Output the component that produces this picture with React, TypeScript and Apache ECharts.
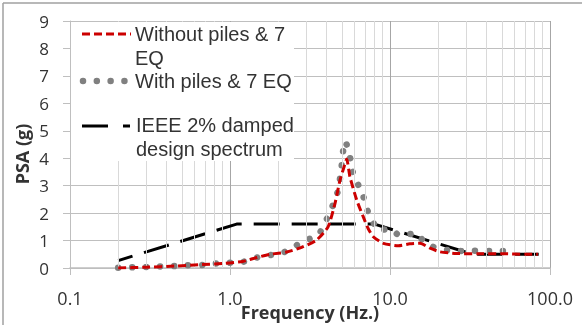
import React, { useEffect, useRef } from 'react';
import * as echarts from 'echarts';

// Without piles & 7 EQ (red dashed)
const freqWithout = [0.2, 0.3, 0.45, 0.65, 0.93, 1.2, 1.47, 1.78, 2.26, 2.8, 3.48, 4.1, 4.53, 4.87, 5.16, 5.36, 5.62, 6.2, 6.8, 7.3, 7.86, 9.1, 11.3, 13.3, 15.4, 17.8, 20.5, 26, 35, 50, 70, 84];
const psaWithout = [0.0, 0.03, 0.07, 0.12, 0.17, 0.24, 0.38, 0.5, 0.58, 0.75, 1.02, 1.5, 2.35, 3.2, 3.68, 3.97, 3.32, 2.47, 1.87, 1.44, 1.14, 0.9, 0.81, 0.88, 0.9, 0.72, 0.59, 0.53, 0.52, 0.52, 0.5, 0.5];

// With piles & 7 EQ (gray dotted)
const freqWith = [0.2, 0.3, 0.45, 0.54, 0.67, 0.81, 1.0, 1.22, 1.47, 1.78, 2.15, 2.55, 3.01, 3.57, 3.87, 4.2, 4.47, 4.75, 4.87, 4.98, 5.06, 5.24, 5.55, 5.69, 5.9, 6.34, 6.8, 7.14, 7.68, 8.44, 10, 11.4, 14.6, 16.5, 19.6, 23, 28.7, 35, 42, 52];
const psaWith = [0.01, 0.04, 0.07, 0.1, 0.11, 0.16, 0.19, 0.23, 0.38, 0.47, 0.56, 0.8, 1.02, 1.2, 1.6, 1.99, 2.41, 2.84, 3.26, 3.68, 4.15, 4.62, 4.25, 3.83, 3.42, 3.02, 2.62, 2.17, 1.78, 1.38, 1.42, 1.2, 1.26, 0.92, 0.72, 0.65, 0.62, 0.63, 0.62, 0.62];

// IEEE 2% damped design spectrum (black long dash)
const freqIEEE = [0.2, 1.1, 8, 33, 85];
const psaIEEE = [0.27, 1.6, 1.6, 0.5, 0.5];

// Axis
const xMin = 0.1;
const xMax = 100;
const yMin = 0;
const yMax = 9;
const yStep = 1;
const minorFreqs = [0.2, 0.3, 0.4, 0.5, 0.6, 0.7, 0.8, 0.9, 2, 3, 4, 5, 6, 7, 8, 9, 20, 30, 40, 50, 60, 70, 80, 90];

const xTitle = 'Frequency (Hz.)';
const yTitle = 'PSA (g)';
const legendNames = ['Without piles & 7\nEQ', 'With piles & 7 EQ', 'IEEE 2% damped\ndesign spectrum'];

const zip = (f: number[], v: number[]) => f.map((x, i) => [x, v[i]]);

export default function App() {
  const ref = useRef<HTMLDivElement>(null);
  useEffect(() => {
    const chart = echarts.init(ref.current as HTMLDivElement, null, { renderer: 'svg' });
    const font = "'Open Sans', sans-serif";
    const legendFont = "'Liberation Sans', Arial, sans-serif";
    const txt = '#333333';
    const legendText = (text: string, x: number, y: number) => ({
      type: 'text',
      x,
      y,
      z: 101,
      style: {
        text,
        fill: txt,
        font: `20px ${legendFont}`,
        lineHeight: 24,
        align: 'left',
        verticalAlign: 'top',
        textAlign: 'left',
        textVerticalAlign: 'top',
      },
    });
    chart.setOption({
      animation: false,
      grid: { left: 70, right: 35, top: 21, bottom: 57, containLabel: false, outerBoundsMode: 'none' },
      xAxis: {
        type: 'log',
        logBase: 10,
        min: xMin,
        max: xMax,
        axisLine: { show: true, lineStyle: { color: '#bfbfbf', width: 1.5 } },
        axisTick: { show: true, length: 7, lineStyle: { color: '#bfbfbf' } },
        axisLabel: {
          formatter: (v: number) => Number(v).toFixed(1),
          fontFamily: font,
          fontSize: 18,
          lineHeight: 18,
          color: txt,
          margin: 21,
        },
        splitLine: { show: true, lineStyle: { color: '#a6a6a6', width: 1 } },
      },
      yAxis: {
        type: 'value',
        min: yMin,
        max: yMax,
        interval: yStep,
        axisLine: { show: true, lineStyle: { color: '#bfbfbf', width: 1 } },
        axisTick: { show: true, length: 7, lineStyle: { color: '#bfbfbf' } },
        axisLabel: { fontFamily: font, fontSize: 17, lineHeight: 18, color: txt, margin: 21 },
        splitLine: { show: true, lineStyle: { color: '#bfbfbf', width: 1 } },
      },
      series: [
        {
          name: 'minor-grid',
          type: 'line',
          data: [[xMin, yMin]],
          symbol: 'none',
          silent: true,
          z: 1,
          lineStyle: { opacity: 0 },
          markLine: {
            silent: true,
            symbol: ['none', 'none'],
            label: { show: false },
            lineStyle: { color: '#d9d9d9', type: 'solid', width: 1 },
            emphasis: { disabled: true },
            data: minorFreqs.map((f) => ({ xAxis: f })),
          },
        },
        {
          name: 'IEEE 2% damped design spectrum',
          type: 'line',
          data: zip(freqIEEE, psaIEEE),
          symbol: 'none',
          z: 3,
          lineStyle: { color: '#000000', width: 3, type: [26, 12], dashOffset: 11, cap: 'butt' },
        },
        {
          name: 'With piles & 7 EQ',
          type: 'line',
          data: zip(freqWith, psaWith),
          symbol: 'none',
          smooth: 0.15,
          z: 4,
          lineStyle: { color: '#808080', width: 6.5, type: [0.01, 14], cap: 'round' },
        },
        {
          name: 'Without piles & 7 EQ',
          type: 'line',
          data: zip(freqWithout, psaWithout),
          symbol: 'none',
          smooth: 0.2,
          z: 5,
          lineStyle: { color: '#cc0000', width: 3, type: [8, 4], cap: 'butt' },
        },
      ],
      graphic: {
        elements: [
          { type: 'line', z: 100, shape: { x1: 3, y1: 3, x2: 582, y2: 3 }, style: { stroke: '#a0a0a0', lineWidth: 1.5 } },
          { type: 'line', z: 100, shape: { x1: 3, y1: 3, x2: 3, y2: 325 }, style: { stroke: '#a0a0a0', lineWidth: 1.5 } },
          { type: 'rect', z: 100, shape: { x: 71, y: 22, width: 223, height: 139 }, style: { fill: '#ffffff' } },
          { type: 'line', z: 101, shape: { x1: 82, y1: 34, x2: 131, y2: 34 }, style: { stroke: '#cc0000', lineWidth: 3, lineDash: [8, 4] } },
          legendText(legendNames[0], 135, 22),
          { type: 'line', z: 101, shape: { x1: 83, y1: 81, x2: 125, y2: 81 }, style: { stroke: '#808080', lineWidth: 6.5, lineDash: [0.01, 13.8], lineCap: 'round' } },
          legendText(legendNames[1], 135, 69),
          { type: 'line', z: 101, shape: { x1: 82, y1: 126, x2: 130, y2: 126 }, style: { stroke: '#000000', lineWidth: 3, lineDash: [26, 15] } },
          legendText(legendNames[2], 136, 113),
          {
            type: 'text',
            x: 310,
            y: 312,
            z: 101,
            style: {
              text: xTitle,
              fill: txt,
              font: `bold 18px ${font}`,
              lineHeight: 20,
              align: 'center',
              verticalAlign: 'middle',
              textAlign: 'center',
              textVerticalAlign: 'middle',
            },
          },
          {
            type: 'text',
            x: 22,
            y: 154,
            rotation: Math.PI / 2,
            z: 101,
            style: {
              text: yTitle,
              fill: txt,
              font: `bold 18px ${font}`,
              lineHeight: 20,
              align: 'center',
              verticalAlign: 'middle',
              textAlign: 'center',
              textVerticalAlign: 'middle',
            },
          },
        ],
      },
    });
    return () => chart.dispose();
  }, []);
  return <div ref={ref} style={{ position: 'fixed', left: 0, top: 0, width: 585, height: 325 }} />;
}
